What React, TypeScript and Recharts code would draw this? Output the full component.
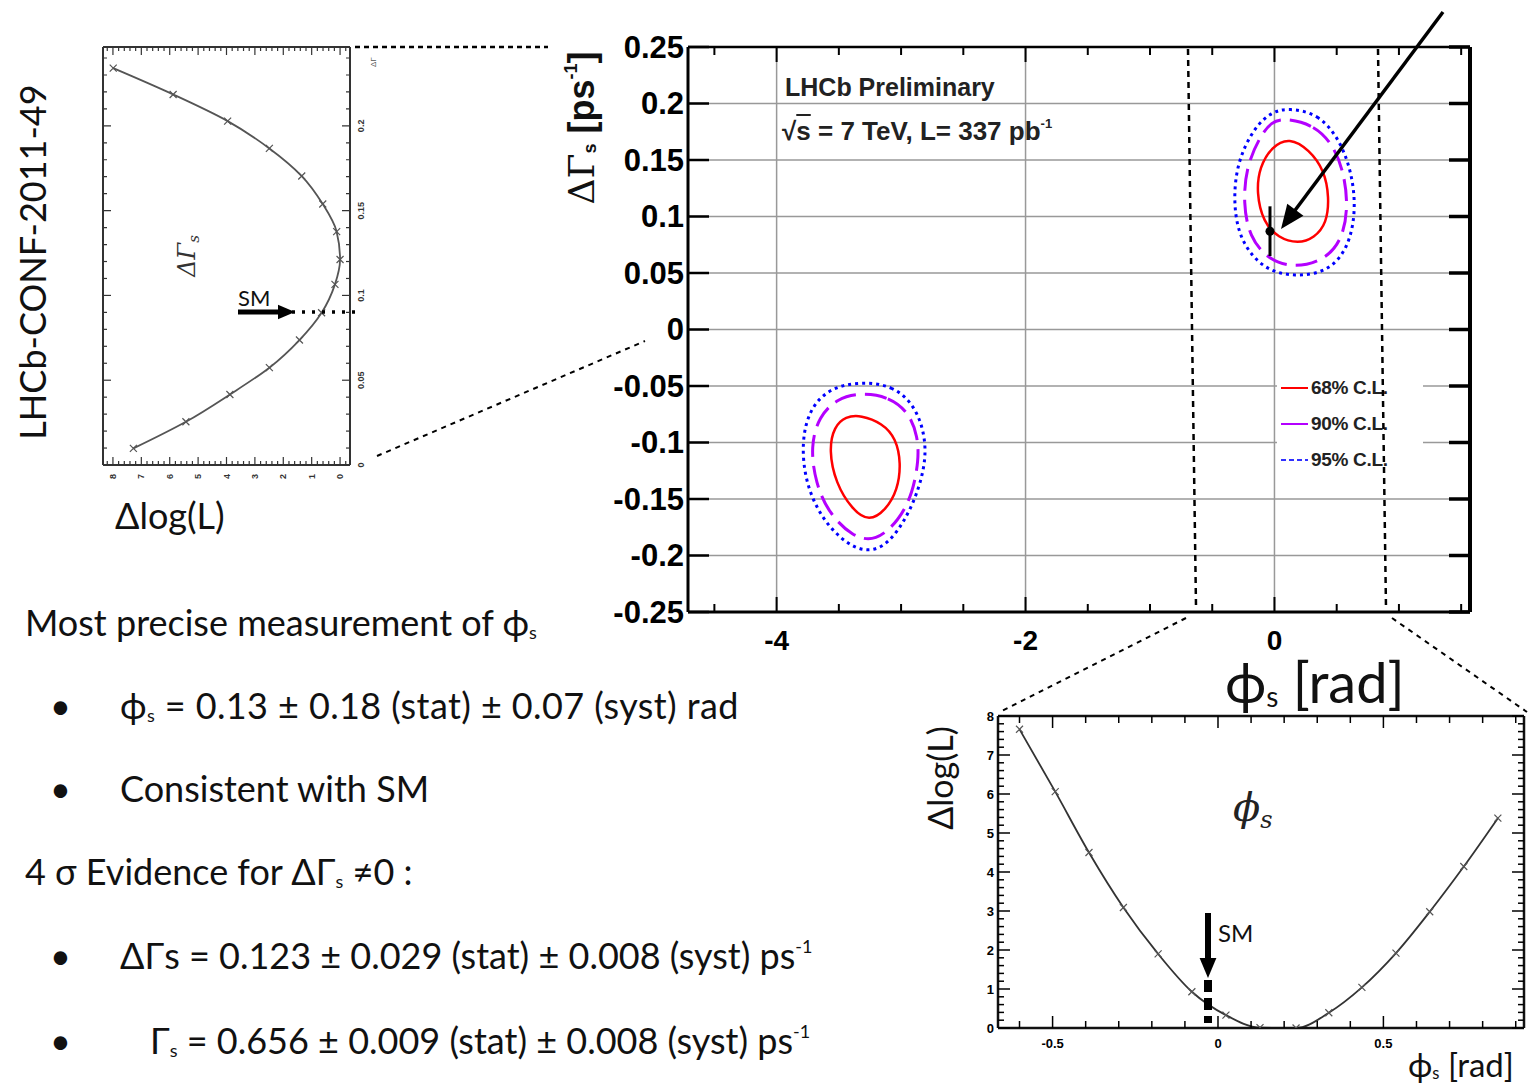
import React from 'react';
import {
  CartesianGrid,
  ComposedChart,
  ErrorBar,
  Legend,
  Line,
  ReferenceLine,
  Scatter,
  XAxis,
  YAxis,
} from 'recharts';

const ROOT_FONT = '"Liberation Sans", Arial, sans-serif';
const SLIDE_FONT = 'Lato, "Open Sans", sans-serif';

const RED = '#ff0000';
const MAGENTA = '#b400ff';
const BLUE = '#0000ff';

// --- main plot: contours in the (phi_s [rad], DeltaGamma_s [ps^-1]) plane ---
const cl68Upper = [
  [0.12, 0.170], [0.28, 0.159], [0.40, 0.141], [0.44, 0.117], [0.42, 0.094], [0.32, 0.081],
  [0.19, 0.076], [0.03, 0.081], [-0.09, 0.095], [-0.145, 0.121], [-0.12, 0.144], [-0.02, 0.162],
];
const cl90Upper = [
  [0.083, 0.187], [0.323, 0.181], [0.485, 0.1615], [0.566, 0.135], [0.59, 0.106], [0.541, 0.079],
  [0.404, 0.0615], [0.162, 0.0544], [-0.048, 0.0615], [-0.202, 0.082], [-0.251, 0.112],
  [-0.226, 0.144], [-0.121, 0.170], [-0.024, 0.184],
];
const cl95Upper = [
  [0.111, 0.196], [0.353, 0.191], [0.525, 0.168], [0.622, 0.1385], [0.655, 0.106], [0.598, 0.073],
  [0.436, 0.051], [0.162, 0.0465], [-0.081, 0.0527], [-0.267, 0.0765], [-0.331, 0.108],
  [-0.307, 0.147], [-0.162, 0.179], [-0.024, 0.1925],
];
const cl68Lower = [
  [-3.324, -0.0757], [-3.149, -0.083], [-3.041, -0.0963], [-3.0, -0.1184], [-3.028, -0.142],
  [-3.122, -0.1597], [-3.257, -0.170], [-3.391, -0.1597], [-3.526, -0.136], [-3.58, -0.1066],
  [-3.539, -0.086], [-3.445, -0.077],
];
const cl90Lower = [
  [-3.324, -0.056], [-3.095, -0.0595], [-2.933, -0.074], [-2.866, -0.095], [-2.858, -0.1155],
  [-2.907, -0.145], [-3.014, -0.1686], [-3.203, -0.188], [-3.391, -0.1834], [-3.58, -0.1627],
  [-3.687, -0.136], [-3.728, -0.1037], [-3.661, -0.077], [-3.513, -0.061],
];
const cl95Lower = [
  [-3.337, -0.0462], [-3.068, -0.0491], [-2.879, -0.0683], [-2.798, -0.0978], [-2.812, -0.1243],
  [-2.907, -0.1568], [-3.068, -0.1863], [-3.23, -0.1975], [-3.418, -0.1922], [-3.634, -0.1686],
  [-3.768, -0.136], [-3.8, -0.1007], [-3.741, -0.0712], [-3.58, -0.052],
];

// Standard Model expectation with its uncertainty
const smPoint = [{ phi: -0.036, dg: 0.087, err: 0.022 }];

const mainXTicks = [-4.5, -4, -3.5, -3, -2.5, -2, -1.5, -1, -0.5, 0, 0.5, 1, 1.5];
const mainXLabels = [-4, -2, 0];
const mainYTicks = [-0.25, -0.2, -0.15, -0.1, -0.05, 0, 0.05, 0.1, 0.15, 0.2, 0.25];

const legendItems = [
  { label: '68% C.L.', color: RED, dash: undefined },
  { label: '90% C.L.', color: MAGENTA, dash: undefined },
  { label: '95% C.L.', color: '#3030ff', dash: '5 3' },
];

// --- left inset: Delta log(L) scan vs DeltaGamma_s ---
const dgScanDg = [0.0098, 0.0255, 0.0416, 0.0574, 0.0737, 0.0898, 0.1065, 0.1212, 0.1376, 0.1539, 0.1704, 0.1867, 0.2028, 0.2185, 0.234];
const dgScanDll = [7.28, 5.43, 3.88, 2.49, 1.43, 0.65, 0.18, 0.0, 0.12, 0.61, 1.35, 2.49, 3.96, 5.88, 7.99];
const dgInsetLabels = [0, 0.05, 0.1, 0.15, 0.2];
const dllInsetLabels = [0, 1, 2, 3, 4, 5, 6, 7, 8];

// --- bottom inset: Delta log(L) scan vs phi_s ---
const phiScanPhi = [-0.6, -0.492, -0.39, -0.286, -0.181, -0.079, 0.024, 0.127, 0.236, 0.335, 0.435, 0.538, 0.64, 0.743, 0.846];
const phiScanDll = [7.66, 6.06, 4.5, 3.09, 1.9, 0.93, 0.33, 0.01, 0.0, 0.39, 1.04, 1.92, 2.98, 4.14, 5.38];
const phiInsetLabels = [-0.5, 0, 0.5];

const toPoints = (pts: number[][]) => pts.map(([phi, dg]) => ({ phi, dg }));
const dgScan = dgScanDg.map((dg, i) => ({ dg, dll: dgScanDll[i] }));
const phiScan = phiScanPhi.map((phi, i) => ({ phi, dll: phiScanDll[i] }));

const contourSeries = [
  { key: 'c95a', pts: cl95Upper, color: BLUE, dash: '3 4', width: 3 },
  { key: 'c90a', pts: cl90Upper, color: MAGENTA, dash: '22 9', width: 3 },
  { key: 'c68a', pts: cl68Upper, color: RED, dash: undefined, width: 2.5 },
  { key: 'c95b', pts: cl95Lower, color: BLUE, dash: '3 4', width: 3 },
  { key: 'c90b', pts: cl90Lower, color: MAGENTA, dash: '22 9', width: 3 },
  { key: 'c68b', pts: cl68Lower, color: RED, dash: undefined, width: 2.5 },
];

// minor tick positions between the labelled ones
const steps = (a: number, b: number, s: number) =>
  Array.from({ length: Math.round((b - a) / s) + 1 }, (_, i) => +(a + i * s).toFixed(4));

const has = (list: number[], v: number) => list.some((m) => Math.abs(m - v) < 1e-6);
const fmt = (v: number) => String(Number(v.toFixed(3)));

interface TickOpts {
  side: 'bottom' | 'top' | 'left' | 'right';
  majors: number[];
  labels: number[];
  majorLen: number;
  minorLen: number;
  fontSize?: number;
  gap?: number;
  color?: string;
  width?: number;
}

// tick drawn inward (ROOT style), label only on the listed values
function makeTick(o: TickOpts) {
  return function TickMark(props: any) {
    const { x, y, payload } = props;
    const v = payload.value;
    const len = has(o.majors, v) ? o.majorLen : o.minorLen;
    const c = o.color || '#000';
    let x2 = x;
    let y2 = y;
    let tx = x;
    let ty = y;
    let anchor = 'middle';
    const gap = o.gap || 0;
    if (o.side === 'bottom') { y2 = y - len; ty = y + gap; }
    if (o.side === 'top') { y2 = y + len; ty = y - gap; }
    if (o.side === 'left') { x2 = x + len; tx = x - gap; anchor = 'end'; }
    if (o.side === 'right') { x2 = x - len; tx = x + gap; anchor = 'start'; }
    const label = has(o.labels, v) ? fmt(v) : null;
    return (
      <g>
        <line x1={x} y1={y} x2={x2} y2={y2} stroke={c} strokeWidth={o.width || 1.5} />
        {label !== null && (
          <text
            x={tx}
            y={ty}
            dy="0.35em"
            textAnchor={anchor}
            fontFamily={ROOT_FONT}
            fontWeight="bold"
            fontSize={o.fontSize}
            fill={c}
          >
            {label}
          </text>
        )}
      </g>
    );
  };
}

const XMark = (props: any) => {
  const { cx, cy } = props;
  if (cx == null || cy == null) return <g />;
  const s = 3.5;
  return (
    <path
      d={`M${cx - s},${cy - s}L${cx + s},${cy + s}M${cx - s},${cy + s}L${cx + s},${cy - s}`}
      stroke="#555"
      strokeWidth={1.2}
    />
  );
};

const MainLegend = () => (
  <div style={{ background: '#fff', padding: '8px 0 0 4px', fontFamily: ROOT_FONT, fontWeight: 'bold', fontSize: 19 }}>
    {legendItems.map((it) => (
      <div key={it.label} style={{ display: 'flex', alignItems: 'center', height: 36 }}>
        <svg width={30} height={10}>
          <line x1={0} y1={5} x2={27} y2={5} stroke={it.color} strokeWidth={2} strokeDasharray={it.dash} />
        </svg>
        <span style={{ color: '#222', letterSpacing: -0.3 }}>{it.label}</span>
      </div>
    ))}
  </div>
);

// invisible series that ties the mirrored frame axes to data so they get a domain
const frameLine = (data: any[], key: string) => (
  <Line
    xAxisId="t"
    yAxisId="r"
    data={data}
    dataKey={key}
    stroke="none"
    dot={false}
    activeDot={false}
    legendType="none"
    isAnimationActive={false}
  />
);

function MainChart() {
  const axisLine = { stroke: '#000', strokeWidth: 3 };
  return (
    <div style={{ position: 'absolute', left: 560, top: 20 }}>
      <ComposedChart width={940} height={660} margin={{ top: 26, right: 29, bottom: 8, left: 0 }}>
        <CartesianGrid vertical={false} stroke="#999" strokeWidth={1.5} />
        <XAxis
          type="number"
          dataKey="phi"
          domain={[-4.712, 1.571]}
          allowDataOverflow
          ticks={mainXTicks}
          interval={0}
          height={60}
          tickSize={0}
          tickMargin={0}
          tickLine={false}
          axisLine={axisLine}
          tick={makeTick({ side: 'bottom', majors: mainXLabels, labels: mainXLabels, majorLen: 15, minorLen: 8, fontSize: 28, gap: 28, width: 2 })}
        />
        <XAxis
          xAxisId="t"
          orientation="top"
          type="number"
          dataKey="phi"
          domain={[-4.712, 1.571]}
          allowDataOverflow
          ticks={mainXTicks}
          interval={0}
          height={1}
          tickSize={0}
          tickMargin={0}
          tickLine={false}
          axisLine={{ stroke: '#000', strokeWidth: 2.5 }}
          tick={makeTick({ side: 'top', majors: mainXLabels, labels: [], majorLen: 15, minorLen: 8, width: 2 })}
        />
        <YAxis
          type="number"
          dataKey="dg"
          domain={[-0.25, 0.25]}
          allowDataOverflow
          ticks={mainYTicks}
          interval={0}
          width={128}
          tickSize={0}
          tickMargin={0}
          tickLine={false}
          axisLine={axisLine}
          tick={makeTick({ side: 'left', majors: mainYTicks, labels: mainYTicks, majorLen: 21, minorLen: 10, fontSize: 31, gap: 4, width: 2.5 })}
        />
        <YAxis
          yAxisId="r"
          orientation="right"
          type="number"
          dataKey="dg"
          domain={[-0.25, 0.25]}
          allowDataOverflow
          ticks={mainYTicks}
          interval={0}
          width={1}
          tickSize={0}
          tickMargin={0}
          tickLine={false}
          axisLine={{ stroke: '#000', strokeWidth: 4 }}
          tick={makeTick({ side: 'right', majors: mainYTicks, labels: [], majorLen: 21, minorLen: 10, width: 3.5 })}
        />
        {mainXLabels.map((v) => (
          <ReferenceLine key={v} x={v} stroke="#999" strokeWidth={1.5} />
        ))}
        {frameLine(toPoints(cl68Upper), 'dg')}
        {contourSeries.map((s) => (
          <Line
            key={s.key}
            data={toPoints(s.pts)}
            dataKey="dg"
            type="basisClosed"
            stroke={s.color}
            strokeWidth={s.width}
            strokeDasharray={s.dash}
            dot={false}
            activeDot={false}
            legendType="none"
            isAnimationActive={false}
          />
        ))}
        <Scatter data={smPoint} fill="#000" isAnimationActive={false} legendType="none">
          <ErrorBar dataKey="err" direction="y" width={0} stroke="#000" strokeWidth={3} />
        </Scatter>
        <Legend
          layout="vertical"
          align="center"
          verticalAlign="middle"
          wrapperStyle={{ left: 717, top: 342, width: 146, height: 108 }}
          content={() => <MainLegend />}
        />
      </ComposedChart>
    </div>
  );
}

// left inset is drawn unrotated (x = DeltaGamma_s, y = Delta log L) and turned 90 degrees
function DgScanInset() {
  const axisLine = { stroke: '#333', strokeWidth: 2 };
  const dgTicks = steps(0, 0.24, 0.01);
  const dllTicks = steps(-0.2, 8.2, 0.2);
  return (
    <div
      style={{
        position: 'absolute',
        left: 99,
        top: 487,
        width: 444,
        height: 273,
        transformOrigin: '0 0',
        transform: 'rotate(-90deg)',
      }}
    >
      <ComposedChart width={444} height={273} margin={{ top: 3, right: 3, bottom: 0, left: 0 }}>
        <XAxis
          type="number"
          dataKey="dg"
          domain={[0, 0.2465]}
          allowDataOverflow
          ticks={dgTicks}
          interval={0}
          height={22}
          tickSize={0}
          tickMargin={0}
          tickLine={false}
          axisLine={axisLine}
          tick={makeTick({ side: 'bottom', majors: dgInsetLabels, labels: dgInsetLabels, majorLen: 8, minorLen: 4, fontSize: 9, gap: 11, color: '#333', width: 1.2 })}
        />
        <XAxis
          xAxisId="t"
          orientation="top"
          type="number"
          dataKey="dg"
          domain={[0, 0.2465]}
          allowDataOverflow
          ticks={dgTicks}
          interval={0}
          height={1}
          tickSize={0}
          tickMargin={0}
          tickLine={false}
          axisLine={axisLine}
          tick={makeTick({ side: 'top', majors: dgInsetLabels, labels: [], majorLen: 8, minorLen: 4, color: '#333', width: 1.2 })}
        />
        <YAxis
          type="number"
          domain={[-0.35, 8.35]}
          allowDataOverflow
          ticks={dllTicks}
          interval={0}
          width={22}
          tickSize={0}
          tickMargin={0}
          tickLine={false}
          axisLine={axisLine}
          tick={makeTick({ side: 'left', majors: dllInsetLabels, labels: dllInsetLabels, majorLen: 8, minorLen: 4, fontSize: 9, gap: 9, color: '#333', width: 1.2 })}
        />
        <YAxis
          yAxisId="r"
          orientation="right"
          type="number"
          domain={[-0.35, 8.35]}
          allowDataOverflow
          ticks={dllTicks}
          interval={0}
          width={1}
          tickSize={0}
          tickMargin={0}
          tickLine={false}
          axisLine={axisLine}
          tick={makeTick({ side: 'right', majors: dllInsetLabels, labels: [], majorLen: 8, minorLen: 4, color: '#333', width: 1.2 })}
        />
        {frameLine(dgScan, 'dll')}
        <Line
          data={dgScan}
          dataKey="dll"
          type="monotone"
          stroke="#555"
          strokeWidth={1.8}
          dot={XMark}
          activeDot={false}
          isAnimationActive={false}
        />
      </ComposedChart>
      <div
        style={{
          position: 'absolute',
          left: 231,
          top: 89,
          transform: 'translate(-50%, -50%)',
          fontFamily: '"DejaVu Serif", serif',
          fontStyle: 'italic',
          fontSize: 24,
          color: '#333',
          whiteSpace: 'nowrap',
        }}
      >
        ΔΓ<span style={{ fontSize: 15, verticalAlign: '-0.3em' }}>s</span>
      </div>
      <div
        style={{
          position: 'absolute',
          left: 420,
          top: 270,
          fontFamily: ROOT_FONT,
          fontSize: 8,
          color: '#555',
          whiteSpace: 'nowrap',
        }}
      >
        ΔΓ
      </div>
    </div>
  );
}

function PhiScanInset() {
  const axisLine = { stroke: '#111', strokeWidth: 2.5 };
  const phiTicks = steps(-0.6, 0.9, 0.1);
  const dllTicks = steps(0, 8, 0.2);
  return (
    <div style={{ position: 'absolute', left: 970, top: 706 }}>
      <ComposedChart width={558} height={347} margin={{ top: 9, right: 3, bottom: 0, left: 0 }}>
        <XAxis
          type="number"
          dataKey="phi"
          domain={[-0.665, 0.925]}
          allowDataOverflow
          ticks={phiTicks}
          interval={0}
          height={25}
          tickSize={0}
          tickMargin={0}
          tickLine={false}
          axisLine={axisLine}
          tick={makeTick({ side: 'bottom', majors: phiInsetLabels, labels: phiInsetLabels, majorLen: 12, minorLen: 7, fontSize: 13, gap: 15, width: 1.5 })}
        />
        <XAxis
          xAxisId="t"
          orientation="top"
          type="number"
          dataKey="phi"
          domain={[-0.665, 0.925]}
          allowDataOverflow
          ticks={phiTicks}
          interval={0}
          height={1}
          tickSize={0}
          tickMargin={0}
          tickLine={false}
          axisLine={axisLine}
          tick={makeTick({ side: 'top', majors: phiInsetLabels, labels: [], majorLen: 12, minorLen: 7, width: 1.5 })}
        />
        <YAxis
          type="number"
          domain={[0, 8]}
          allowDataOverflow
          ticks={dllTicks}
          interval={0}
          width={28}
          tickSize={0}
          tickMargin={0}
          tickLine={false}
          axisLine={axisLine}
          tick={makeTick({ side: 'left', majors: dllInsetLabels, labels: dllInsetLabels, majorLen: 12, minorLen: 6, fontSize: 13, gap: 4, width: 1.5 })}
        />
        <YAxis
          yAxisId="r"
          orientation="right"
          type="number"
          domain={[0, 8]}
          allowDataOverflow
          ticks={dllTicks}
          interval={0}
          width={1}
          tickSize={0}
          tickMargin={0}
          tickLine={false}
          axisLine={axisLine}
          tick={makeTick({ side: 'right', majors: dllInsetLabels, labels: [], majorLen: 12, minorLen: 6, width: 1.5 })}
        />
        {frameLine(phiScan, 'dll')}
        <Line
          data={phiScan}
          dataKey="dll"
          type="monotone"
          stroke="#333"
          strokeWidth={1.8}
          dot={XMark}
          activeDot={false}
          isAnimationActive={false}
        />
      </ComposedChart>
    </div>
  );
}

const Sub = ({ children }: { children: React.ReactNode }) => (
  <span style={{ fontSize: '0.5em', verticalAlign: '-0.15em' }}>{children}</span>
);
const Sup = ({ children }: { children: React.ReactNode }) => (
  <span style={{ fontSize: '0.5em', verticalAlign: '0.9em' }}>{children}</span>
);

const Text = ({ x, cy, size, children, style }: any) => (
  <div
    style={{
      position: 'absolute',
      left: x,
      top: cy - size / 2,
      fontSize: size,
      lineHeight: 1,
      whiteSpace: 'nowrap',
      color: '#111',
      ...style,
    }}
  >
    {children}
  </div>
);

const Rotated = ({ cx, cy, size, children, style }: any) => (
  <div
    style={{
      position: 'absolute',
      left: cx,
      top: cy,
      fontSize: size,
      lineHeight: 1,
      whiteSpace: 'nowrap',
      color: '#111',
      transform: 'translate(-50%, -50%) rotate(-90deg)',
      ...style,
    }}
  >
    {children}
  </div>
);

function SlideText() {
  const bullet = (cy: number) => <Text x={50} cy={cy} size={36}>•</Text>;
  return (
    <>
      <Rotated cx={32} cy={262} size={36}>LHCb-CONF-2011-49</Rotated>
      <Text x={115} cy={515} size={36}>Δlog(L)</Text>
      <Text x={238} cy={298} size={22}>SM</Text>

      <Text x={25} cy={622} size={36}>Most precise measurement of ϕ<Sub>s</Sub></Text>
      {bullet(705)}
      <Text x={120} cy={705} size={36} style={{ letterSpacing: 0.4 }}>ϕ<Sub>s</Sub> = 0.13 ± 0.18 (stat) ± 0.07 (syst) rad</Text>
      {bullet(788)}
      <Text x={120} cy={788} size={36}>Consistent with SM</Text>
      <Text x={25} cy={871} size={36}>4 σ Evidence for ΔΓ<Sub>s</Sub> ≠0 :</Text>
      {bullet(955)}
      <Text x={120} cy={955} size={36}>ΔΓs = 0.123 ± 0.029 (stat) ± 0.008 (syst) ps<Sup>-1</Sup></Text>
      {bullet(1040)}
      <Text x={150} cy={1040} size={36}>Γ<Sub>s</Sub> = 0.656 ± 0.009 (stat) ± 0.008 (syst) ps<Sup>-1</Sup></Text>

      {/* main plot texts */}
      <Text x={785} cy={87} size={25} style={{ fontFamily: ROOT_FONT, fontWeight: 'bold', color: '#222' }}>
        LHCb Preliminary
      </Text>
      <Text x={782} cy={130} size={26} style={{ fontFamily: ROOT_FONT, fontWeight: 'bold', color: '#222' }}>
        √<span style={{ textDecoration: 'overline' }}>s</span> = 7 TeV, L= 337 pb<Sup>-1</Sup>
      </Text>
      <Rotated cx={581} cy={128} size={36} style={{ fontFamily: ROOT_FONT, fontWeight: 'bold' }}>
        <span style={{ fontWeight: 'normal', fontFamily: '"DejaVu Serif", serif' }}>ΔΓ</span>
        <Sub>s</Sub> [ps<Sup>-1</Sup>]
      </Rotated>
      <Text x={1225} cy={682} size={56}>ϕ<Sub>s</Sub> [rad]</Text>

      {/* bottom inset texts */}
      <Rotated cx={940} cy={778} size={34}>Δlog(L)</Rotated>
      <Text x={1233} cy={807} size={40} style={{ fontFamily: '"DejaVu Serif", serif', fontStyle: 'italic', color: '#222' }}>
        ϕ<span style={{ fontSize: 24, verticalAlign: '-0.3em' }}>s</span>
      </Text>
      <Text x={1218} cy={933} size={24}>SM</Text>
      <Text x={1408} cy={1064} size={33}>ϕ<Sub>s</Sub> [rad]</Text>
    </>
  );
}

const guides = [
  { x1: 355, y1: 47, x2: 548, y2: 47, dash: '5 4', w: 2.5 },
  { x1: 377, y1: 456, x2: 645, y2: 341, dash: '5 5', w: 2 },
  { x1: 1188, y1: 49, x2: 1196, y2: 606, dash: '6 5', w: 2.5 },
  { x1: 1378, y1: 49, x2: 1386, y2: 608, dash: '6 5', w: 2.5 },
  { x1: 1186, y1: 618, x2: 1000, y2: 712, dash: '5 5', w: 2 },
  { x1: 1392, y1: 618, x2: 1527, y2: 712, dash: '5 5', w: 2 },
  { x1: 292, y1: 312, x2: 356, y2: 312, dash: '3 7', w: 3.5 },
  { x1: 1208, y1: 980, x2: 1208, y2: 1023, dash: '12 6', w: 8 },
];

const arrows = [
  { x1: 1443, y1: 12, x2: 1281, y2: 229, w: 3.5, head: 24 },
  { x1: 238, y1: 312, x2: 295, y2: 312, w: 5, head: 17 },
  { x1: 1208, y1: 913, x2: 1208, y2: 978, w: 6, head: 20 },
];

function Arrow({ x1, y1, x2, y2, w, head }: any) {
  const ang = Math.atan2(y2 - y1, x2 - x1);
  const bx = x2 - head * Math.cos(ang);
  const by = y2 - head * Math.sin(ang);
  const hw = head * 0.42;
  const px = -Math.sin(ang) * hw;
  const py = Math.cos(ang) * hw;
  return (
    <g>
      <line x1={x1} y1={y1} x2={bx + Math.cos(ang) * 3} y2={by + Math.sin(ang) * 3} stroke="#000" strokeWidth={w} />
      <polygon points={`${x2},${y2} ${bx + px},${by + py} ${bx - px},${by - py}`} fill="#000" />
    </g>
  );
}

function Overlay() {
  return (
    <svg width={1528} height={1084} style={{ position: 'absolute', left: 0, top: 0, pointerEvents: 'none' }}>
      {guides.map((g, i) => (
        <line key={i} x1={g.x1} y1={g.y1} x2={g.x2} y2={g.y2} stroke="#000" strokeWidth={g.w} strokeDasharray={g.dash} />
      ))}
      {arrows.map((a, i) => (
        <Arrow key={i} {...a} />
      ))}
    </svg>
  );
}

export default function App() {
  return (
    <div
      style={{
        position: 'absolute',
        left: 0,
        top: 0,
        width: 1528,
        height: 1084,
        overflow: 'hidden',
        background: '#fff',
        fontFamily: SLIDE_FONT,
      }}
    >
      <MainChart />
      <DgScanInset />
      <PhiScanInset />
      <SlideText />
      <Overlay />
    </div>
  );
}
